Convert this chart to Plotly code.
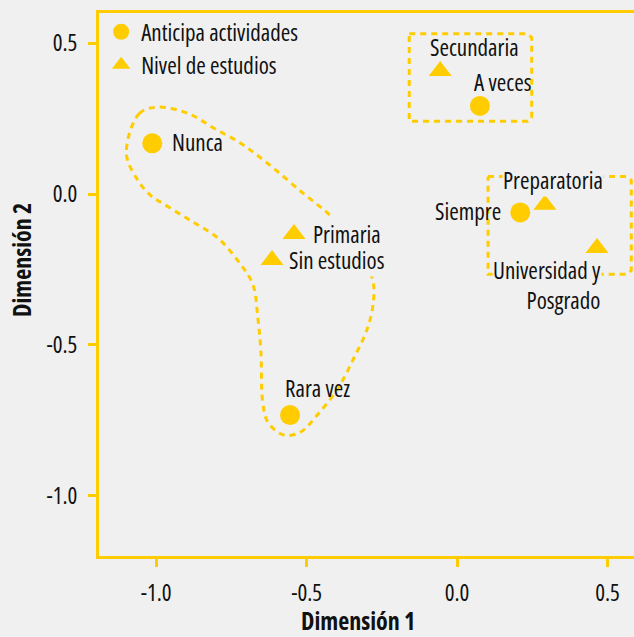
import plotly.graph_objects as go

FONT = "Open Sans"
GOLD = "#ffcc00"
BG = "#f0f0f0"
INK = "#111111"

# --- datos: Anticipa actividades (círculos) ---
act_labels = ["Nunca", "Rara vez", "A veces", "Siempre"]
act_x = [-1.013, -0.555, 0.076, 0.210]
act_y = [0.168, -0.733, 0.292, -0.061]

# --- datos: Nivel de estudios (triángulos) ---
est_labels = ["Sin estudios", "Primaria", "Secundaria", "Preparatoria", "Universidad y<br>Posgrado"]
est_x = [-0.615, -0.542, -0.056, 0.292, 0.465]
est_y = [-0.219, -0.133, 0.408, -0.036, -0.179]

# --- contornos punteados de los grupos ---
grupo1_x = [-1.099, -1.056, -0.993, -0.894, -0.808, -0.719, -0.629, -0.510, -0.421, -0.338,
            -0.281, -0.278, -0.298, -0.344, -0.397, -0.464, -0.520, -0.576, -0.629, -0.646,
            -0.652, -0.662, -0.679, -0.728, -0.795, -0.884, -0.977, -1.017, -1.060, -1.099]
grupo1_y = [0.134, 0.267, 0.288, 0.267, 0.218, 0.168, 0.101, 0.001, -0.072, -0.172,
            -0.282, -0.356, -0.446, -0.546, -0.646, -0.732, -0.789, -0.799, -0.756, -0.689,
            -0.522, -0.412, -0.299, -0.222, -0.146, -0.089, -0.032, -0.006, 0.044, 0.134]
grupo2_x = [-0.159, 0.235, 0.248, 0.248, 0.235, -0.159, -0.159]
grupo2_y = [0.531, 0.531, 0.518, 0.254, 0.241, 0.241, 0.531]
grupo3_x = [0.103, 0.566, 0.579, 0.579, 0.566, 0.103, 0.103]
grupo3_y = [0.058, 0.058, 0.045, -0.253, -0.266, -0.266, 0.058]

tick_vals = [-1.0, -0.5, 0.0, 0.5]
tick_text = [f"{v:.1f}" for v in tick_vals]

# posición de cada etiqueta respecto a su marcador: (xanchor, xshift, yshift, fondo)
label_pos = {
    "Nunca": ("left", 19, 1, False),
    "Rara vez": ("center", 27, 27, False),
    "A veces": ("center", 23, 24, False),
    "Siempre": ("right", -18, 1, False),
    "Sin estudios": ("left", 16, 0, True),
    "Primaria": ("left", 18, 0, True),
    "Secundaria": ("center", 34, 24, False),
    "Preparatoria": ("center", 8, 25, True),
    "Universidad y<br>Posgrado": ("right", 5, -37, True),
}

fig = go.Figure()

dash_line = dict(color=GOLD, width=3, dash="6px,5px")
for gx, gy, shape in [(grupo1_x, grupo1_y, "spline"),
                      (grupo2_x, grupo2_y, "linear"),
                      (grupo3_x, grupo3_y, "linear")]:
    fig.add_trace(go.Scatter(x=gx, y=gy, mode="lines", line=dict(shape=shape, **dash_line),
                             showlegend=False, hoverinfo="skip"))

fig.add_trace(go.Scatter(x=act_x, y=act_y, mode="markers", name="Anticipa actividades",
                         text=act_labels,
                         marker=dict(symbol="circle", size=20, color=GOLD)))
fig.add_trace(go.Scatter(x=est_x, y=est_y, mode="markers", name="Nivel de estudios",
                         text=est_labels,
                         marker=dict(symbol="triangle-up", size=20, color=GOLD)))

annotations = []
for labels, xs, ys in [(act_labels, act_x, act_y), (est_labels, est_x, est_y)]:
    for lab, x, y in zip(labels, xs, ys):
        xa, dx, dy, mask = label_pos[lab]
        annotations.append(dict(
            x=x, y=y, xref="x", yref="y", text=lab, showarrow=False,
            xanchor=xa, yanchor="middle", xshift=dx, yshift=dy, align=xa,
            bgcolor=BG if mask else None, borderpad=0,
            font=dict(size=23, color=INK)))

# títulos de ejes
annotations.append(dict(x=0.484, y=-0.118, xref="paper", yref="paper", showarrow=False,
                        text="<b>Dimensión 1</b>", xanchor="center", yanchor="middle",
                        font=dict(size=24, color=INK)))
annotations.append(dict(x=-0.146, y=0.545, xref="paper", yref="paper", showarrow=False,
                        text="<b>Dimensión 2</b>", textangle=-90, xanchor="center", yanchor="middle",
                        font=dict(size=24, color=INK)))

axis_style = dict(
    showline=True, linecolor=GOLD, linewidth=3,
    ticks="outside", tickcolor=GOLD, ticklen=8, tickwidth=3,
    showgrid=False, zeroline=False,
    tickvals=tick_vals, ticktext=tick_text,
    tickfont=dict(size=23, color=INK),
)

fig.update_layout(
    width=634, height=637,
    margin=dict(l=99, r=0, t=13, b=81),
    paper_bgcolor=BG, plot_bgcolor=BG,
    font=dict(family=FONT, size=23, color=INK),
    showlegend=True,
    legend=dict(x=0.004, y=1.005, xanchor="left", yanchor="top", bgcolor="rgba(0,0,0,0)",
                font=dict(size=23, color=INK), itemclick=False),
    annotations=annotations,
    hovermode="closest",
)
fig.update_xaxes(range=[-1.19, 0.588], mirror=True, ticklabelstandoff=6, **axis_style)
fig.update_yaxes(range=[-1.2, 0.6], ticklabelstandoff=6, **axis_style)

# Open Sans en su variante condensada (eje de anchura), sin margen de página
post = """
var st = document.createElement('style');
st.textContent = 'svg text { font-stretch: 82%; }';
document.head.appendChild(st);
document.body.style.margin = '0';
var gd = document.getElementsByClassName('plotly-graph-div')[0];
Plotly.relayout(gd, {'font.family': '"Open Sans", sans-serif'});
"""

fig.write_html("out.html", post_script=post, config={"displayModeBar": False})
